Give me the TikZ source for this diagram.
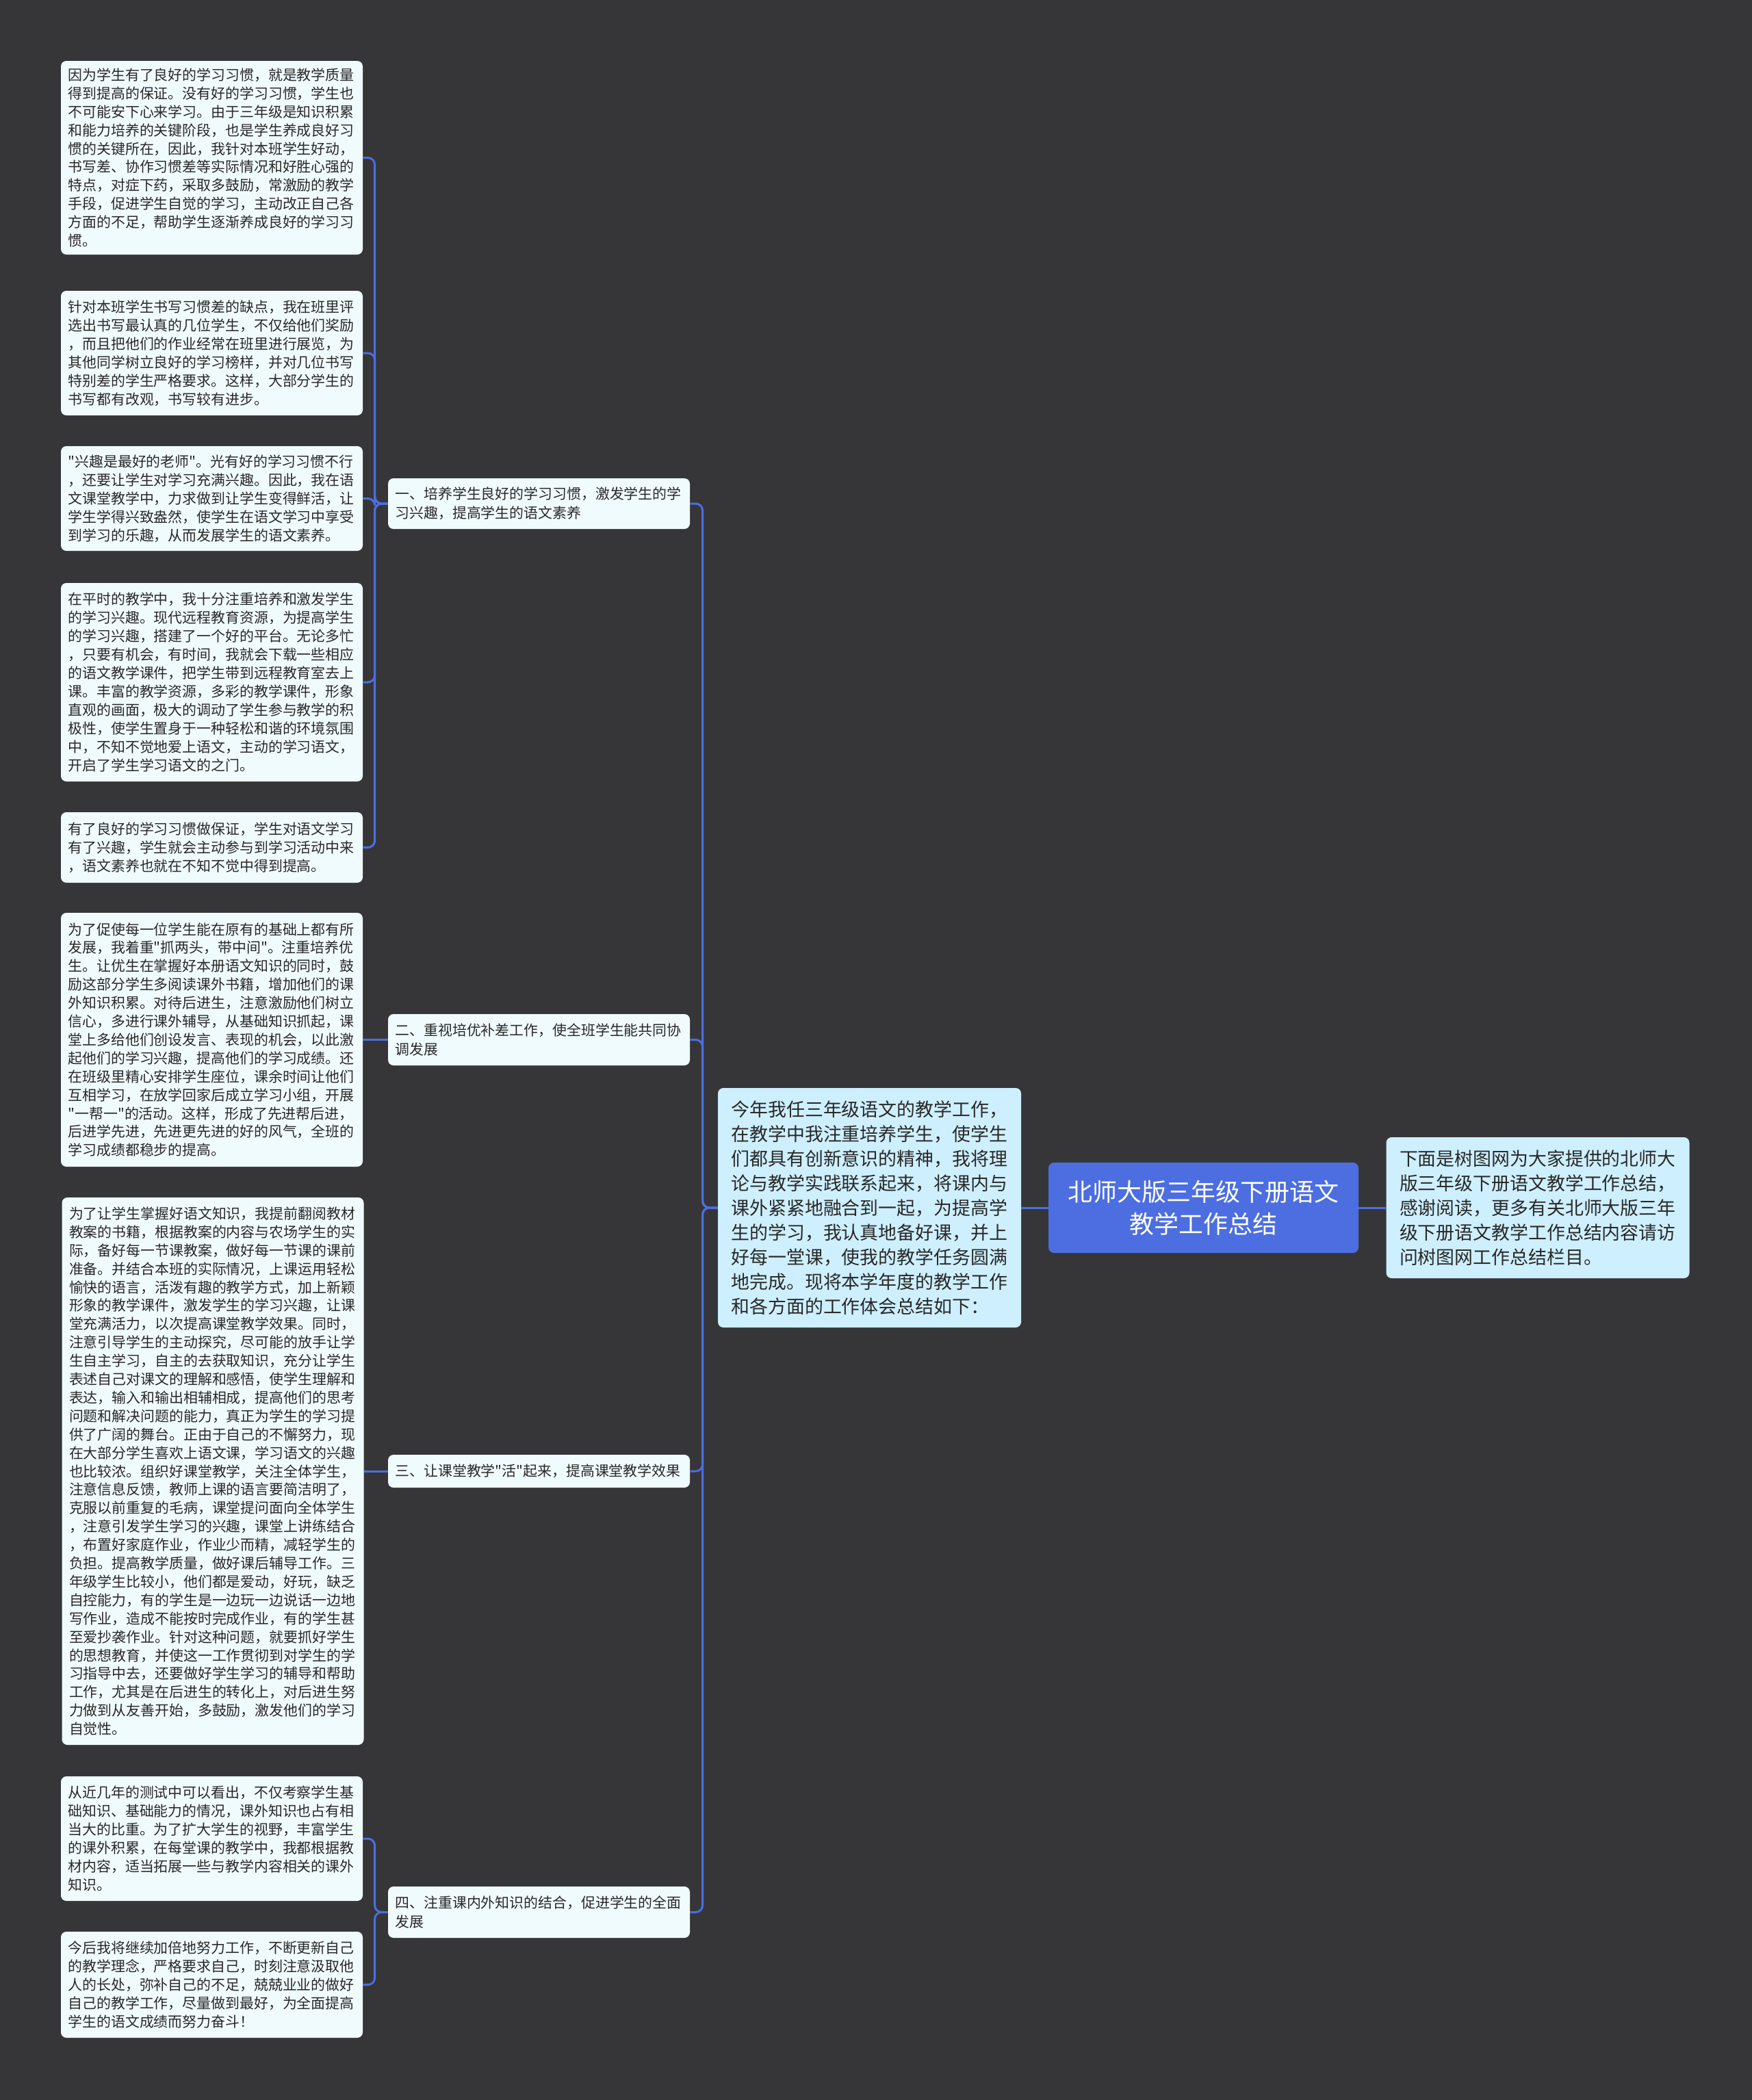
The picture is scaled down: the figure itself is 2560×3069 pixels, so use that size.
\documentclass[tikz,border=0pt]{standalone}
\usepackage{fontspec}
\setmainfont{Noto Sans CJK SC}[Ligatures=TeXOff]
\definecolor{bgdark}{RGB}{54,54,57}
\definecolor{linkblue}{RGB}{76,110,224}
\definecolor{leaffill}{RGB}{240,251,254}
\definecolor{notefill}{RGB}{206,239,253}
\definecolor{inkgray}{RGB}{40,40,40}
\begin{document}
\begin{tikzpicture}[x=0.5pt,y=-0.5pt,
  link/.style={linkblue,line width=1.5pt,rounded corners=5pt},
  leaf/.style={fill=leaffill,rounded corners=4pt,text=inkgray,align=left,text width=210pt,inner xsep=5.25pt,inner ysep=3pt,font=\fontsize{10.45pt}{13.45pt}\selectfont},
  branch/.style={leaf,font=\fontsize{10.45pt}{14pt}\selectfont},
  note/.style={fill=notefill,rounded corners=4pt,text=inkgray,align=left,text width=202pt,inner xsep=9.75pt,inner ysep=3pt,font=\fontsize{13.45pt}{18pt}\selectfont},
  topic/.style={fill=linkblue,rounded corners=4pt,text=white,align=center,text width=200pt,minimum width=226.5pt,minimum height=66pt,font=\fontsize{18pt}{23.5pt}\selectfont}]
\fill[bgdark] (0,0) rectangle (2560,3069);
\node[topic] (root) at (1758.5,1765) {北师大版三年级下册语文\\教学工作总结};
\node[note,minimum height=175pt] (intro) at (1270.5,1765) {今年我任三年级语文的教学工作，\\在教学中我注重培养学生，使学生\\们都具有创新意识的精神，我将理\\论与教学实践联系起来，将课内与\\课外紧紧地融合到一起，为提高学\\生的学习，我认真地备好课，并上\\好每一堂课，使我的教学任务圆满\\地完成。现将本学年度的教学工作\\和各方面的工作体会总结如下：};
\node[note,minimum height=103pt] (tail) at (2247,1765) {下面是树图网为大家提供的北师大\\版三年级下册语文教学工作总结，\\感谢阅读，更多有关北师大版三年\\级下册语文教学工作总结内容请访\\问树图网工作总结栏目。};
\node[branch,minimum height=37pt] (b1) at (787.5,736) {一、培养学生良好的学习习惯，激发学生的学\\习兴趣，提高学生的语文素养};
\node[branch,minimum height=37.5pt] (b2) at (787.5,1519.5) {二、重视培优补差工作，使全班学生能共同协\\调发展};
\node[branch,minimum height=24pt] (b3) at (787.5,2150) {三、让课堂教学"活"起来，提高课堂教学效果};
\node[branch,minimum height=37.5pt] (b4) at (787.5,2794.5) {四、注重课内外知识的结合，促进学生的全面\\发展};
\node[leaf,minimum height=141.5pt] (l1) at (309.5,230.5) {因为学生有了良好的学习习惯，就是教学质量\\得到提高的保证。没有好的学习习惯，学生也\\不可能安下心来学习。由于三年级是知识积累\\和能力培养的关键阶段，也是学生养成良好习\\惯的关键所在，因此，我针对本班学生好动，\\书写差、协作习惯差等实际情况和好胜心强的\\特点，对症下药，采取多鼓励，常激励的教学\\手段，促进学生自觉的学习，主动改正自己各\\方面的不足，帮助学生逐渐养成良好的学习习\\惯。};
\node[leaf,minimum height=91pt] (l2) at (309.5,516) {针对本班学生书写习惯差的缺点，我在班里评\\选出书写最认真的几位学生，不仅给他们奖励\\，而且把他们的作业经常在班里进行展览，为\\其他同学树立良好的学习榜样，并对几位书写\\特别差的学生严格要求。这样，大部分学生的\\书写都有改观，书写较有进步。};
\node[leaf,minimum height=76.5pt] (l3) at (309.5,728.5) {"兴趣是最好的老师"。光有好的学习习惯不行\\，还要让学生对学习充满兴趣。因此，我在语\\文课堂教学中，力求做到让学生变得鲜活，让\\学生学得兴致盎然，使学生在语文学习中享受\\到学习的乐趣，从而发展学生的语文素养。};
\node[leaf,minimum height=145pt] (l4) at (309.5,997) {在平时的教学中，我十分注重培养和激发学生\\的学习兴趣。现代远程教育资源，为提高学生\\的学习兴趣，搭建了一个好的平台。无论多忙\\，只要有机会，有时间，我就会下载一些相应\\的语文教学课件，把学生带到远程教育室去上\\课。丰富的教学资源，多彩的教学课件，形象\\直观的画面，极大的调动了学生参与教学的积\\极性，使学生置身于一种轻松和谐的环境氛围\\中，不知不觉地爱上语文，主动的学习语文，\\开启了学生学习语文的之门。};
\node[leaf,minimum height=51.5pt] (l5) at (309.5,1238.5) {有了良好的学习习惯做保证，学生对语文学习\\有了兴趣，学生就会主动参与到学习活动中来\\，语文素养也就在不知不觉中得到提高。};
\node[leaf,minimum height=185.5pt] (l6) at (309.5,1519.5) {为了促使每一位学生能在原有的基础上都有所\\发展，我着重"抓两头，带中间"。注重培养优\\生。让优生在掌握好本册语文知识的同时，鼓\\励这部分学生多阅读课外书籍，增加他们的课\\外知识积累。对待后进生，注意激励他们树立\\信心，多进行课外辅导，从基础知识抓起，课\\堂上多给他们创设发言、表现的机会，以此激\\起他们的学习兴趣，提高他们的学习成绩。还\\在班级里精心安排学生座位，课余时间让他们\\互相学习，在放学回家后成立学习小组，开展\\"一帮一"的活动。这样，形成了先进帮后进，\\后进学先进，先进更先进的好的风气，全班的\\学习成绩都稳步的提高。};
\node[leaf,minimum height=400pt] (l7) at (311,2150) {为了让学生掌握好语文知识，我提前翻阅教材\\教案的书籍，根据教案的内容与农场学生的实\\际，备好每一节课教案，做好每一节课的课前\\准备。并结合本班的实际情况，上课运用轻松\\愉快的语言，活泼有趣的教学方式，加上新颖\\形象的教学课件，激发学生的学习兴趣，让课\\堂充满活力，以次提高课堂教学效果。同时，\\注意引导学生的主动探究，尽可能的放手让学\\生自主学习，自主的去获取知识，充分让学生\\表述自己对课文的理解和感悟，使学生理解和\\表达，输入和输出相辅相成，提高他们的思考\\问题和解决问题的能力，真正为学生的学习提\\供了广阔的舞台。正由于自己的不懈努力，现\\在大部分学生喜欢上语文课，学习语文的兴趣\\也比较浓。组织好课堂教学，关注全体学生，\\注意信息反馈，教师上课的语言要简洁明了，\\克服以前重复的毛病，课堂提问面向全体学生\\，注意引发学生学习的兴趣，课堂上讲练结合\\，布置好家庭作业，作业少而精，减轻学生的\\负担。提高教学质量，做好课后辅导工作。三\\年级学生比较小，他们都是爱动，好玩，缺乏\\自控能力，有的学生是一边玩一边说话一边地\\写作业，造成不能按时完成作业，有的学生甚\\至爱抄袭作业。针对这种问题，就要抓好学生\\的思想教育，并使这一工作贯彻到对学生的学\\习指导中去，还要做好学生学习的辅导和帮助\\工作，尤其是在后进生的转化上，对后进生努\\力做到从友善开始，多鼓励，激发他们的学习\\自觉性。};
\node[leaf,minimum height=91pt] (l8) at (309.5,2687) {从近几年的测试中可以看出，不仅考察学生基\\础知识、基础能力的情况，课外知识也占有相\\当大的比重。为了扩大学生的视野，丰富学生\\的课外积累，在每堂课的教学中，我都根据教\\材内容，适当拓展一些与教学内容相关的课外\\知识。};
\node[leaf,minimum height=77.5pt] (l9) at (309.5,2900.5) {今后我将继续加倍地努力工作，不断更新自己\\的教学理念，严格要求自己，时刻注意汲取他\\人的长处，弥补自己的不足，兢兢业业的做好\\自己的教学工作，尽量做到最好，为全面提高\\学生的语文成绩而努力奋斗！};
\draw[link] (root.west) -- (intro.east);
\draw[link] (root.east) -- (tail.west);
\foreach \b in {b1,b2,b3,b4}
  \draw[link] (intro.west) -- ++(-22,0) |- (\b.east);
\foreach \l in {l1,l2,l3,l4,l5}
  \draw[link] (b1.west) -- ++(-19,0) |- (\l.east);
\draw[link] (b2.west) -- (l6.east);
\draw[link] (b3.west) -- (l7.east);
\foreach \l in {l8,l9}
  \draw[link] (b4.west) -- ++(-19,0) |- (\l.east);
\end{tikzpicture}
\end{document}
